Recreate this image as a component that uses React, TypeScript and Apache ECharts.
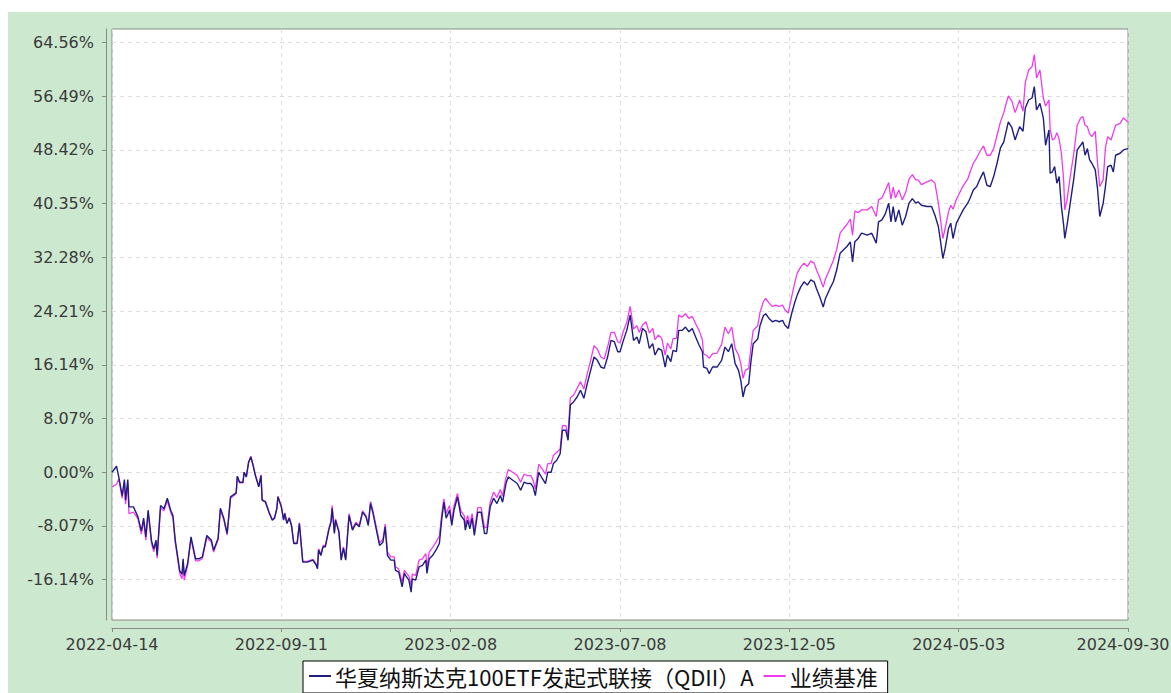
import React, { useEffect, useRef } from "react";
import * as echarts from "echarts";

const fundName = "华夏纳斯达克100ETF发起式联接（QDII）A";
const benchName = "业绩基准";

const xTickLabels = ["2022-04-14", "2022-09-11", "2023-02-08", "2023-07-08", "2023-12-05", "2024-05-03", "2024-09-30"];
const yTickValues = [-16.14, -8.07, 0, 8.07, 16.14, 24.21, 32.28, 40.35, 48.42, 56.49, 64.56];

// days since 2022-04-14
const days = [
  0, 4, 6, 9, 11, 12, 14, 15, 19, 23, 26, 28, 30, 32, 33, 35, 37, 39, 40, 43, 46, 49, 52, 54, 56, 58, 60, 62, 63, 64,
  67, 70, 74, 77, 80, 84, 88, 90, 94, 96, 99, 102, 105, 110, 111, 113, 116, 117, 119, 121, 123, 125, 127, 130, 132, 133, 136, 139, 142, 144,
  146, 147, 150, 152, 153, 155, 157, 159, 161, 164, 166, 169, 173, 178, 181, 182, 183, 185, 187, 189, 192, 194, 195, 197, 198, 201, 203, 205, 207, 210,
  213, 216, 219, 222, 225, 227, 229, 231, 234, 237, 240, 242, 244, 247, 250, 251, 254, 257, 259, 260, 263, 265, 266, 269, 272, 275, 278, 279, 281, 284,
  287, 290, 292, 294, 296, 299, 301, 303, 306, 309, 312, 313, 315, 317, 319, 321, 324, 327, 330, 332, 335, 338, 341, 344, 346, 349, 351, 355, 359, 362,
  365, 368, 371, 373, 375, 378, 381, 384, 386, 389, 391, 394, 397, 399, 402, 404, 406, 409, 412, 415, 418, 421, 424, 427, 430, 433, 436, 439, 442, 445,
  448, 450, 453, 456, 459, 462, 465, 467, 470, 473, 476, 479, 481, 484, 487, 490, 492, 495, 497, 500, 502, 505, 508, 511, 514, 517, 520, 523, 524, 527,
  529, 532, 536, 540, 543, 546, 549, 552, 555, 557, 559, 561, 564, 566, 568, 572, 574, 577, 579, 582, 585, 588, 591, 594, 596, 599, 602, 605, 607, 610,
  613, 616, 619, 622, 624, 627, 630, 632, 636, 639, 642, 645, 648, 651, 654, 656, 658, 661, 664, 669, 673, 677, 679, 682, 685, 688, 690, 692, 694, 697,
  700, 703, 706, 709, 712, 714, 717, 722, 726, 729, 732, 734, 736, 738, 741, 743, 745, 748, 751, 754, 758, 760, 763, 766, 769, 772, 775, 778, 781, 784,
  787, 790, 791, 794, 797, 800, 804, 807, 809, 812, 815, 817, 819, 822, 825, 827, 830, 831, 833, 835, 837, 839, 841, 843, 844, 846, 849, 852, 855, 858,
  860, 862, 864, 866, 868, 871, 873, 875, 878, 880, 882, 885, 887, 889, 893, 896, 900,
];

const fundValues = [
  0.0, 0.9, -0.7, -3.5, -1.1, -4.2, -1.1, -5.2, -5.2, -6.7, -8.8, -6.9, -9.7, -5.7, -7.2, -10.3, -11.5, -10.2, -12.5, -5.0, -5.5, -3.9, -5.7, -6.5, -10.2, -12.5, -14.8, -15.3, -13.0, -15.5,
  -13.7, -9.7, -13.0, -13.0, -12.7, -9.5, -10.2, -11.7, -9.9, -5.4, -6.9, -9.2, -3.7, -3.1, -0.6, -1.5, -1.5, 0.0, -0.7, 1.5, 2.3, 1.0, -0.5, -2.2, -0.5, -4.2, -4.5, -6.0, -7.2, -6.9,
  -5.5, -3.7, -5.2, -7.2, -6.2, -7.7, -6.9, -8.0, -10.7, -10.7, -7.7, -13.5, -13.5, -13.2, -14.0, -14.5, -11.7, -12.5, -11.2, -11.2, -8.7, -7.5, -5.4, -9.2, -7.2, -9.0, -13.2, -11.4, -13.2, -6.5,
  -8.7, -7.7, -8.2, -6.0, -6.7, -8.0, -4.7, -6.0, -8.5, -11.0, -10.5, -8.2, -12.5, -13.2, -13.2, -14.7, -15.0, -17.2, -15.2, -15.5, -16.2, -18.0, -16.0, -16.2, -14.2, -14.0, -13.2, -15.2, -13.0, -12.5,
  -11.7, -10.7, -7.2, -4.5, -6.9, -5.7, -8.0, -5.7, -3.7, -6.5, -7.2, -8.7, -7.2, -8.5, -6.9, -9.5, -6.0, -6.0, -9.2, -9.2, -5.2, -3.9, -4.7, -3.5, -4.5, -1.7, -0.7, -1.2, -1.7, -2.7,
  -1.5, -1.7, -1.7, -2.2, -3.5, 0.0, -0.9, -1.7, 0.0, 0.0, 1.3, 1.8, 2.8, 6.3, 6.3, 4.8, 10.1, 10.6, 11.3, 12.3, 11.1, 13.3, 15.3, 17.3, 16.8, 15.8, 15.6, 17.3, 19.8, 19.6,
  18.1, 18.1, 19.8, 21.3, 23.6, 19.8, 20.3, 19.3, 21.6, 21.1, 18.6, 19.3, 17.6, 18.6, 18.3, 15.8, 17.6, 16.6, 18.3, 18.1, 21.3, 21.3, 21.8, 21.1, 21.6, 20.3, 19.1, 18.1, 15.8, 15.6,
  14.8, 15.8, 15.8, 16.8, 18.8, 18.1, 19.3, 16.3, 15.3, 13.8, 11.3, 12.8, 13.3, 16.6, 19.3, 20.0, 22.0, 23.5, 23.8, 23.1, 22.6, 22.8, 22.6, 22.8, 22.1, 21.6, 23.8, 25.6, 26.6, 27.8,
  28.6, 28.1, 28.9, 28.6, 27.6, 26.3, 24.8, 26.1, 27.6, 28.6, 30.4, 32.9, 33.4, 33.9, 34.6, 31.6, 34.6, 35.1, 35.9, 35.6, 35.9, 34.4, 37.6, 37.9, 38.8, 40.4, 37.6, 39.9, 37.6, 39.4,
  37.1, 38.4, 40.4, 41.1, 40.4, 40.6, 40.1, 39.9, 39.9, 38.6, 36.9, 34.6, 32.1, 33.6, 36.6, 37.4, 35.1, 37.4, 38.4, 39.4, 40.4, 41.1, 42.4, 42.9, 44.1, 45.1, 43.1, 42.9, 44.4, 46.4,
  48.7, 49.6, 50.4, 52.6, 51.8, 49.9, 51.9, 51.2, 54.7, 55.9, 56.2, 57.9, 54.4, 55.4, 53.2, 49.1, 51.4, 44.9, 45.1, 45.9, 43.4, 44.4, 39.9, 37.1, 35.1, 37.1, 40.6, 44.1, 48.4, 49.1,
  49.6, 47.6, 48.6, 46.9, 46.4, 45.4, 42.6, 38.4, 40.4, 42.9, 45.9, 46.1, 45.1, 47.6, 47.9, 48.4, 48.6,
];

const benchValues = [
  -2.2, -1.8, -1.0, -3.9, -1.5, -4.8, -1.6, -6.2, -6.0, -7.0, -9.3, -7.3, -10.2, -6.2, -7.6, -10.7, -11.9, -10.6, -12.9, -5.4, -5.8, -4.3, -6.0, -6.9, -10.5, -12.8, -15.2, -16.0, -13.4, -16.2,
  -14.0, -10.0, -13.3, -13.3, -13.0, -9.8, -10.5, -12.0, -10.1, -5.6, -7.1, -9.4, -3.9, -3.2, -0.6, -1.6, -1.6, 0.0, -0.7, 1.5, 2.4, 1.1, -0.4, -2.1, -0.4, -4.1, -4.4, -5.9, -7.1, -6.8,
  -5.4, -3.6, -5.1, -7.1, -6.1, -7.6, -6.8, -7.9, -10.6, -10.6, -7.6, -13.4, -13.4, -13.1, -13.8, -14.3, -11.5, -12.3, -11.0, -11.0, -8.5, -7.3, -5.0, -9.0, -7.0, -8.8, -13.0, -11.2, -13.0, -6.2,
  -8.5, -7.5, -8.0, -5.8, -6.5, -7.8, -4.4, -5.7, -8.1, -10.6, -10.1, -7.8, -12.0, -12.7, -12.7, -14.2, -14.5, -16.5, -14.7, -15.0, -15.6, -17.0, -15.3, -15.5, -13.2, -13.0, -12.2, -14.3, -12.0, -11.3,
  -10.5, -9.6, -6.4, -4.0, -6.2, -5.0, -7.3, -5.0, -3.2, -5.8, -6.5, -8.0, -6.5, -7.8, -6.2, -8.8, -5.3, -5.3, -8.3, -8.3, -4.5, -3.0, -3.8, -2.6, -3.6, -0.8, 0.4, 0.0, -0.5, -1.5,
  -0.3, -0.5, -0.5, -1.2, -2.5, 1.2, 0.5, -0.3, 1.3, 1.3, 2.5, 3.0, 3.5, 7.0, 7.0, 5.6, 11.2, 11.6, 12.6, 13.6, 12.5, 14.8, 16.8, 19.0, 18.5, 17.3, 17.0, 18.8, 21.0, 21.0,
  19.6, 19.4, 21.2, 22.5, 24.9, 21.5, 22.0, 21.0, 22.1, 22.6, 20.9, 21.6, 19.9, 20.6, 20.1, 17.6, 19.4, 18.5, 20.1, 20.1, 23.6, 23.3, 23.8, 23.1, 23.4, 22.3, 21.3, 19.9, 17.8, 17.5,
  17.1, 17.8, 17.9, 19.2, 21.8, 20.8, 21.8, 18.6, 17.6, 16.3, 14.1, 15.3, 15.6, 18.8, 21.3, 22.0, 24.0, 25.6, 26.1, 25.4, 24.9, 25.1, 24.9, 25.1, 24.4, 23.9, 26.3, 28.6, 29.9, 30.8,
  31.4, 30.9, 31.7, 31.4, 30.4, 29.2, 27.8, 29.0, 30.6, 31.8, 33.5, 35.9, 36.6, 37.2, 38.0, 35.6, 39.2, 39.0, 39.4, 39.4, 39.9, 38.4, 40.9, 41.2, 42.3, 43.5, 41.0, 42.8, 41.2, 42.4,
  40.9, 42.0, 44.0, 44.7, 43.9, 43.9, 43.2, 43.6, 43.9, 43.4, 40.4, 37.9, 35.1, 36.6, 39.1, 40.1, 39.5, 41.0, 42.0, 43.0, 44.0, 45.0, 46.4, 47.2, 48.2, 49.0, 47.6, 47.6, 48.6, 50.6,
  52.6, 54.0, 54.7, 56.5, 55.8, 54.0, 55.9, 54.2, 58.5, 60.4, 60.9, 62.7, 59.2, 60.4, 56.2, 55.0, 55.9, 51.6, 49.9, 50.1, 51.0, 50.0, 47.9, 43.9, 39.4, 40.9, 44.6, 47.9, 52.1, 53.2,
  53.4, 52.1, 51.9, 50.8, 50.4, 51.2, 46.4, 42.9, 43.9, 48.7, 50.4, 49.9, 51.0, 52.1, 52.4, 53.2, 52.6,
];

export default function App() {
  const ref = useRef<HTMLDivElement>(null);
  useEffect(() => {
    if (!ref.current) return;
    const chart = echarts.init(ref.current, undefined, { renderer: "svg" });
    const labelFont = { fontFamily: "DejaVu Sans", fontSize: 16, color: "#3a3a3a" };
    chart.setOption({
      animation: false,
      backgroundColor: "#cce8cf",
      grid: {
        left: 104,
        right: 43,
        top: 17,
        bottom: 73,
        show: true,
        containLabel: false,
        outerBoundsMode: "none",
        backgroundColor: "#ffffff",
        borderColor: "#8a8a8a",
        borderWidth: 1,
      },
      legend: {
        left: 295,
        top: 649,
        data: [fundName, benchName],
        icon: "rect",
        itemWidth: 22,
        itemHeight: 2,
        itemGap: 10,
        padding: [4, 10, 6, 6],
        borderColor: "#000000",
        borderWidth: 1,
        backgroundColor: "#ffffff",
        borderRadius: 0,
        textStyle: { fontFamily: "Noto Sans CJK SC", fontSize: 22, color: "#111111", padding: [0, 0, 0, -1] },
      },
      xAxis: {
        type: "value",
        min: 0,
        max: 900,
        interval: 150,
        offset: 8,
        axisLine: { show: true, onZero: false, lineStyle: { color: "#8a8a8a", width: 1 } },
        axisTick: { show: true, length: 4, lineStyle: { color: "#8a8a8a" } },
        axisLabel: {
          ...labelFont,
          margin: 8,
          showMaxLabel: true,
          showMinLabel: true,
          hideOverlap: false,
          formatter: (v: number) => {
            const i = Math.round(v / 150);
            const t = xTickLabels[i] ?? "";
            return i === xTickLabels.length - 1 ? "{last|" + t + "}" : t;
          },
          rich: {
            last: { ...labelFont, padding: [0, 10, 0, 0] },
          },
        },
        splitLine: { show: true, lineStyle: { color: "#dcdcdc", type: [4, 4], width: 1 } },
      },
      yAxis: {
        type: "value",
        min: -22.19,
        max: 66.56,
        offset: 6,
        axisLine: { show: true, onZero: false, lineStyle: { color: "#8a8a8a", width: 1 } },
        axisTick: { show: true, length: 4, lineStyle: { color: "#8a8a8a" }, customValues: yTickValues },
        axisLabel: {
          ...labelFont,
          margin: 12,
          customValues: yTickValues,
          formatter: (v: number) => v.toFixed(2) + "%",
        },
        splitLine: { show: true, lineStyle: { color: "#dcdcdc", type: [4, 4], width: 1 } },
      },
      series: [
        {
          name: benchName,
          type: "line",
          data: days.map((d, i) => [d, benchValues[i]]),
          symbol: "none",
          lineStyle: { color: "#ee3cee", width: 1.3 },
          itemStyle: { color: "#ee3cee" },
          z: 2,
        },
        {
          name: fundName,
          type: "line",
          data: days.map((d, i) => [d, fundValues[i]]),
          symbol: "none",
          lineStyle: { color: "#1e1e80", width: 1.4 },
          itemStyle: { color: "#1e1e80" },
          z: 3,
        },
      ],
    });
    return () => chart.dispose();
  }, []);
  return (
    <div
      ref={ref}
      style={{ position: "absolute", left: 8, top: 12, width: 1163, height: 681 }}
    />
  );
}
